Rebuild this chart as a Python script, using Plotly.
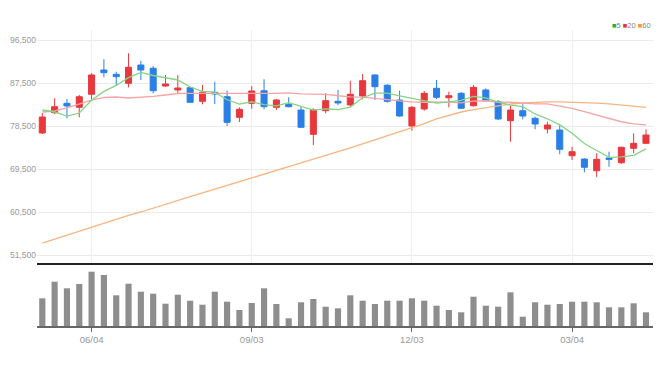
import plotly.graph_objects as go

dates = ["2018-05-07","2018-05-14","2018-05-21","2018-05-28","2018-06-04","2018-06-11","2018-06-18","2018-06-25",
         "2018-07-02","2018-07-09","2018-07-16","2018-07-23","2018-07-30","2018-08-06","2018-08-13","2018-08-20",
         "2018-08-27","2018-09-03","2018-09-10","2018-09-17","2018-09-24","2018-10-01","2018-10-08","2018-10-15",
         "2018-10-22","2018-10-29","2018-11-05","2018-11-12","2018-11-19","2018-11-26","2018-12-03","2018-12-10",
         "2018-12-17","2018-12-24","2018-12-31","2019-01-07","2019-01-14","2019-01-21","2019-01-28","2019-02-04",
         "2019-02-11","2019-02-18","2019-02-25","2019-03-04","2019-03-11","2019-03-18","2019-03-25","2019-04-01",
         "2019-04-08","2019-04-15"]

open_ = [77040, 81280, 83250, 82410, 85140, 90220, 89320, 87440, 91270, 90580,
         86870, 86040, 86520, 83670, 85550, 84630, 80320, 83250, 85890, 82410,
         83040, 81850, 76760, 81700, 83670, 82900, 84780, 89180, 87020, 83940,
         78500, 82060, 86390, 84420, 85340, 82750, 86040, 83590, 79610, 81700,
         80110, 77870, 77660, 72280, 71590, 69140, 71800, 70820, 73830, 74880]
high = [81220, 84300, 84150, 84990, 89530, 92460, 89870, 93720, 92170, 91060,
        89180, 89180, 86600, 87080, 87770, 85890, 82410, 86870, 88280, 84150,
        84510, 82540, 82210, 85340, 86040, 87980, 89380, 89320, 87290, 85890,
        82690, 85830, 88130, 85680, 85620, 87080, 86390, 83940, 82690, 83040,
        80450, 79400, 78710, 74170, 71740, 72790, 73120, 74170, 76970, 77810]
low = [76830, 81010, 80110, 80320, 84090, 88690, 87080, 86600, 88130, 85340,
       86730, 85340, 83380, 83040, 83110, 78500, 79340, 82120, 82000, 81850,
       82410, 78080, 74520, 81160, 82900, 82540, 84090, 83940, 83380, 80450,
       77520, 81700, 84150, 82410, 82060, 82540, 83590, 79760, 75210, 79900,
       77810, 76970, 72580, 71380, 68810, 67760, 69980, 70550, 72790, 74730]
close = [80380, 82540, 82690, 84630, 89180, 89660, 88820, 90790, 90220, 85890,
         87290, 86450, 83460, 85550, 85200, 79270, 82000, 85830, 82540, 83940,
         82540, 78230, 81850, 83800, 83320, 85140, 87980, 86730, 83670, 80590,
         82410, 85340, 84510, 84840, 82210, 86600, 83800, 79970, 81850, 80590,
         78920, 78710, 73620, 73120, 69860, 71530, 71530, 74040, 74880, 76620]

ma5 = [81850, 81430, 80590, 81220, 83880, 85740, 86990, 88610, 89730, 89070,
       88600, 88130, 86660, 85730, 85590, 83990, 83100, 83570, 82970, 82720,
       83370, 82620, 81820, 82070, 81950, 82470, 84420, 85390, 85370, 84820,
       84280, 83750, 83310, 83540, 83860, 84700, 84390, 83480, 82880, 82560,
       81020, 80010, 78740, 76990, 74850, 73370, 71930, 72020, 72370, 73720]
ma20 = [81430, 81640, 82270, 83110, 83940, 84470, 84570, 84360, 84470, 84680,
        84990, 85300, 85340, 85340, 85300, 85200, 85240, 85340, 85340, 85320,
        85420, 85210, 85170, 85130, 84830, 84610, 84560, 84360, 84030, 83770,
        83530, 83470, 83520, 83490, 83340, 83700, 83790, 83500, 83470, 83300,
        83120, 83140, 82730, 82200, 81520, 80840, 80020, 79390, 78950, 78750]
ma60 = [54010, 54850, 55690, 56420, 57260, 58090, 58930, 59770, 60500, 61340,
        62170, 62910, 63740, 64480, 65310, 66050, 66880, 67620, 68450, 69190,
        70020, 70760, 71590, 72330, 73160, 73900, 74730, 75570, 76410, 77240,
        78080, 79020, 79970, 80700, 81430, 81950, 82370, 82790, 83110, 83310,
        83460, 83540, 83540, 83500, 83400, 83270, 83130, 82940, 82690, 82410]

volume = [2770000, 4430000, 3770000, 4200000, 5430000, 5100000, 3070000, 4230000, 3430000, 3230000,
          2230000, 3130000, 2530000, 2130000, 3430000, 2430000, 1600000, 2300000, 3770000, 2200000,
          770000, 2370000, 2700000, 1930000, 1770000, 3070000, 2530000, 2200000, 2530000, 2530000,
          2770000, 2530000, 2030000, 1600000, 1370000, 2930000, 2030000, 1930000, 3370000, 930000,
          2370000, 2130000, 2200000, 2430000, 2430000, 2370000, 1870000, 1870000, 2270000, 1370000]

price_ticks = [51500, 60500, 69500, 78500, 87500, 96500]
x_tickvals = ["2018-06-04", "2018-09-03", "2018-12-03", "2019-03-04"]
x_ticktext = ["06/04", "09/03", "12/03", "03/04"]
ma_names = ["5", "20", "60"]

RED = "#e8383d"
BLUE = "#2a7fe6"
FONT = "Liberation Sans, Arial, sans-serif"

fig = go.Figure()
fig.add_trace(go.Candlestick(
    x=dates, open=open_, high=high, low=low, close=close,
    increasing=dict(line=dict(color=RED, width=1), fillcolor=RED),
    decreasing=dict(line=dict(color=BLUE, width=1), fillcolor=BLUE),
    xaxis="x", yaxis="y", name="price"))
for vals, col, nm in [(ma60, "#f7b580", ma_names[2]), (ma20, "#f5a5a5", ma_names[1]), (ma5, "#86d486", ma_names[0])]:
    fig.add_trace(go.Scatter(x=dates, y=vals, mode="lines", line=dict(color=col, width=1.3),
                             xaxis="x", yaxis="y", name=nm))
fig.add_trace(go.Bar(x=dates, y=volume, marker=dict(color="#8e8e8e", line=dict(width=0)),
                     xaxis="x2", yaxis="y2", name="vol"))

W, H = 660, 358
M_L, M_R, M_T, M_B = 29, 15, 22, 40
plot_h = H - M_T - M_B          # 296
bot = H - M_B                   # 318 in figure coords (326 on screen)
xr = [-0.43, 49.57]
fig.update_layout(
    width=W, height=H,
    margin=dict(l=M_L, r=M_R, t=M_T, b=M_B, autoexpand=False),
    paper_bgcolor="white", plot_bgcolor="white",
    showlegend=False, bargap=0.5,
    font=dict(family=FONT, color="#999"),
    xaxis=dict(domain=[0, 1], anchor="y", type="category", range=xr,
               tickvals=x_tickvals, showticklabels=False, ticks="",
               showgrid=True, gridcolor="#eeeeee", gridwidth=1,
               showline=True, linecolor="#222", linewidth=2,
               rangeslider=dict(visible=False), automargin=False),
    xaxis2=dict(domain=[0, 1], anchor="y2", type="category", range=xr, matches="x",
                tickvals=x_tickvals, ticktext=x_ticktext, ticks="outside", ticklen=4,
                tickcolor="#666", tickwidth=1.2, showgrid=False,
                showline=True, linecolor="#666", linewidth=1.5, automargin=False,
                tickfont=dict(family=FONT, size=9.5, color="#999")),
    yaxis=dict(domain=[(bot - 255) / plot_h, 1], anchor="x", range=[49826, 98593],
               tickvals=price_ticks, tickformat=",", ticks="", automargin=False,
               showgrid=True, gridcolor="#ebebeb", gridwidth=1, zeroline=False,
               tickfont=dict(family=FONT, size=8.5, color="#999")),
    yaxis2=dict(domain=[0, (bot - 260) / plot_h], anchor="x2", range=[0, 5800000],
                showticklabels=False, showgrid=False, zeroline=False, automargin=False),
)

legend_text = (f"<span style='color:#22b33a'>■</span>{ma_names[0]} "
               f"<span style='color:#e53935'>■</span>{ma_names[1]} "
               f"<span style='color:#f39a3a'>■</span>{ma_names[2]}")
fig.add_annotation(xref="paper", yref="paper", x=1.0, y=(bot - 17) / plot_h,
                   xanchor="right", yanchor="middle", showarrow=False,
                   text=legend_text, font=dict(family=FONT, size=7.5, color="#888"))

fig.write_html("out.html")
